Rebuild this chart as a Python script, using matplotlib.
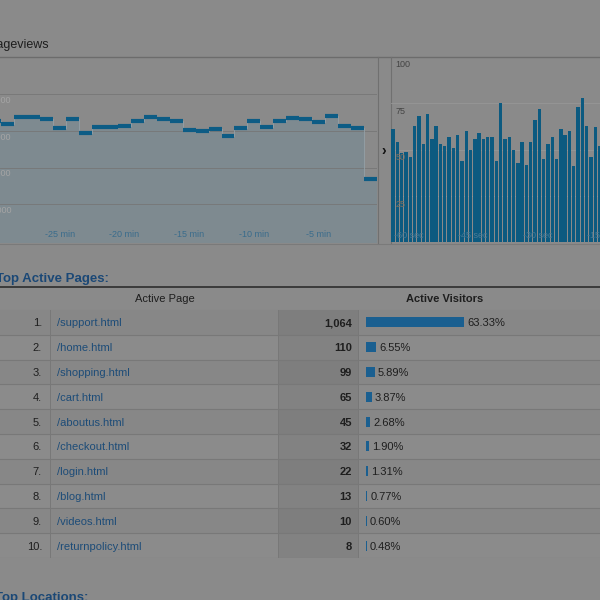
import matplotlib
matplotlib.use('Agg')
import matplotlib.pyplot as plt
from matplotlib.patches import Rectangle
from matplotlib.transforms import blended_transform_factory
import numpy as np

plt.rcParams['font.family'] = ['Liberation Sans', 'DejaVu Sans']

# Pageviews per minute (last 30 minutes)
minutes = list(range(-30, 0))
pageviews = [3280, 3190, 3370, 3370, 3315, 3070, 3315, 2935, 3115, 3115,
             3135, 3280, 3370, 3315, 3280, 3025, 3000, 3050, 2860, 3080,
             3260, 3115, 3260, 3350, 3335, 3245, 3405, 3145, 3090, 1700]
pv_grid = [1000, 2000, 3000, 4000]
pv_ticks = [-25, -20, -15, -10, -5]

# Pageviews per second
seconds = list(range(-64, -15))
per_second = [61, 54, 48, 49, 46, 63, 68, 53, 69, 56, 63, 53, 52, 57, 51, 58,
              44, 60, 50, 56, 59, 56, 57, 57, 44, 75, 56, 57, 50, 43, 54, 42,
              54, 66, 72, 45, 53, 57, 45, 61, 58, 60, 41, 73, 78, 63, 46, 62, 52]
ps_grid = [25, 50, 75, 100]
ps_ticks = [-60, -45, -30, -15]

# Top active pages
ranks = list(range(1, 11))
pages = ['/support.html', '/home.html', '/shopping.html', '/cart.html',
         '/aboutus.html', '/checkout.html', '/login.html', '/blog.html',
         '/videos.html', '/returnpolicy.html']
visitors = [1064, 110, 99, 65, 45, 32, 22, 13, 10, 8]
shares = [63.33, 6.55, 5.89, 3.87, 2.68, 1.90, 1.31, 0.77, 0.60, 0.48]

BG = '#8a8a8a'
BAR = '#0c5a80'
LINE = '#0d5c85'
FILL = '#7e8a90'
TBAR = '#1a5f90'
LINK = '#1d4c78'
DARK = '#1e1e1e'
RULE = '#787878'

W = H = 600
fig = plt.figure(figsize=(6, 6), dpi=100, facecolor=BG)


def px_axes(x0, y0, x1, y1):
    return fig.add_axes([x0 / W, 1 - y1 / H, (x1 - x0) / W, (y1 - y0) / H])


page = fig.add_axes([0, 0, 1, 1])
page.set_xlim(0, W)
page.set_ylim(H, 0)
page.axis('off')

# panel header and frame
page.text(48.5, 45, 'Pageviews', ha='right', va='center', fontsize=9, color=DARK)
page.plot([0, 600], [56.5, 56.5], color='#6c6c6c', lw=1)
page.plot([0, 600], [243.5, 243.5], color='#7a7a7a', lw=0.8)
page.plot([377.5, 377.5], [57, 243], color='#707070', lw=0.8)
page.plot([390.5, 390.5], [57, 243], color='#707070', lw=0.8)
page.text(383.5, 151, '›', ha='center', va='center', fontsize=10,
          fontweight='bold', color='#111111')

# line chart: pageviews per minute
ax1 = px_axes(0, 57, 377, 243)
ax1.set_facecolor(BG)
edges = np.arange(minutes[0] - 0.5, minutes[-1] + 1.0, 1.0)
ax1.set_xlim(-29.6, -0.5)
ax1.set_ylim(-55, 5015)
ax1.stairs(pageviews, edges, baseline=-55, fill=True, color=FILL, zorder=1)
ax1.stairs(pageviews, edges, baseline=None, color='#93a0a7', lw=0.6, zorder=2)
for v in pv_grid:
    ax1.axhline(v, color='#767676', lw=0.6, zorder=1.5)
ax1.hlines(pageviews, edges[:-1], edges[1:], color=LINE, lw=3, zorder=3)
tr1 = blended_transform_factory(ax1.transAxes, ax1.transData)
for v in pv_grid:
    ax1.text(11.5 / 377, v - 165, f'{v:,}', transform=tr1, ha='right',
             va='center', fontsize=6.5, color='#a4a4a4')
for m in pv_ticks:
    ax1.text(m, 190, f'{m} min', ha='center', va='center', fontsize=6.5,
             color='#3a6c8c')
ax1.axis('off')

# bar chart: pageviews per second
ax2 = px_axes(391, 57, 600, 243)
ax2.set_facecolor(BG)
ax2.set_xlim(-64.1, -15.5)
ax2.set_ylim(-0.3, 100)
for v in ps_grid[:-1]:
    ax2.axhline(v, color='#979797', lw=0.6, zorder=1)
ax2.bar(seconds, per_second, width=0.8, align='edge', color=BAR, zorder=2)
tr2 = blended_transform_factory(ax2.transAxes, ax2.transData)
for v in ps_grid:
    ax2.text(0.02, v - 4.3, str(v), transform=tr2, ha='left', va='center',
             fontsize=6.5, color='#444444' if v > 60 else '#7d6f60', zorder=3)
for s in ps_ticks:
    ax2.text(s, 4, f'{s} sec', ha='center', va='center', fontsize=6.5,
             color='#4a7b96', zorder=3, clip_on=False)
ax2.axis('off')

# table title and header
page.text(109, 279, 'Top Active Pages:', ha='right', va='center', fontsize=9.5,
          fontweight='bold', color='#1b4876')
page.plot([0, 600], [286.5, 286.5], color='#3a3a3a', lw=1.4)
page.plot([0, 600], [310, 310], color=RULE, lw=0.8)
page.text(165, 298.5, 'Active Page', ha='center', va='center', fontsize=8,
          color=DARK)
page.text(445, 298.5, 'Active Visitors', ha='center', va='center', fontsize=8,
          fontweight='bold', color=DARK)
page.text(88, 601, 'Top Locations:', ha='right', va='baseline', fontsize=9.5,
          fontweight='bold', color='#1b4876')

# table rows
tab = px_axes(0, 310, 600, 558)
tab.set_xlim(0, 600)
tab.set_ylim(10.5, 0.5)
tab.axis('off')
for r, name, v in zip(ranks, pages, visitors):
    shade = '#878787' if r % 2 else '#8b8b8b'
    cshade = '#7e7e7e' if r % 2 else '#828282'
    tab.axhspan(r - 0.5, r + 0.5, color=shade, lw=0, zorder=0)
    tab.add_patch(Rectangle((278, r - 0.5), 80, 1, color=cshade, lw=0, zorder=0.5))
    tab.axhline(r + 0.5, color=RULE, lw=0.8, zorder=1)
    tab.text(42, r, f'{r}.', ha='right', va='center_baseline', fontsize=8, color=DARK)
    tab.text(57, r, name, ha='left', va='center_baseline', fontsize=8, color=LINK)
    tab.text(352, r, f'{v:,}', ha='right', va='center_baseline', fontsize=8,
             fontweight='bold', color=DARK)
for x in [50, 278, 358]:
    tab.axvline(x, color=RULE, lw=0.7, zorder=1)

# share bars
bx = px_axes(366, 310, 600, 558)
bx.set_xlim(0, 234 / 1.55)
bx.set_ylim(10.5, 0.5)
bx.axis('off')
bx.barh(ranks, shares, height=0.4, color=TBAR)
for r, p in zip(ranks, shares):
    bx.text(p + 1.9, r, f'{p:.2f}%', ha='left', va='center_baseline',
            fontsize=8, color=DARK)

fig.savefig('out.png', dpi=100, facecolor=BG)
